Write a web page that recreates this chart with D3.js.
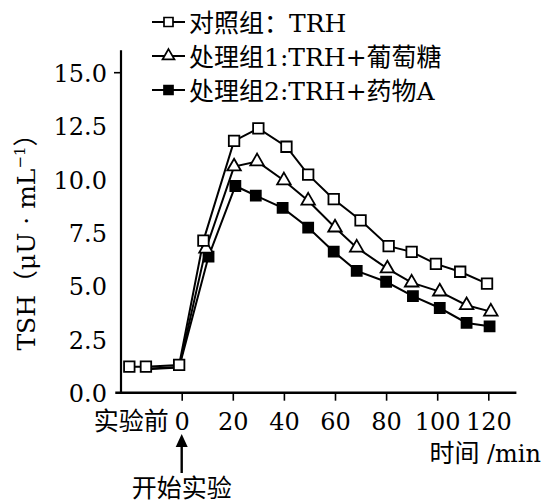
<!DOCTYPE html>
<html>
<head>
<meta charset="utf-8">
<script src="https://cdn.jsdelivr.net/npm/d3@7"></script>
<style>
  html, body { margin: 0; padding: 0; background: #fff; }
  svg { display: block; }
</style>
</head>
<body>
<svg id="chart" width="543" height="504"></svg>
<script>
// TSH response over time (μU·mL⁻¹)
const seriesNames = ["对照组：TRH", "处理组1:TRH+葡萄糖", "处理组2:TRH+药物A"];

// control group (includes the two pre-experiment readings)
const controlTimes  = [-20.5, -14, -1, 8.5, 20.5, 30, 41, 49.5, 59.5, 70, 81, 90, 99.5, 109, 119.5];
const controlValues = [1.22, 1.22, 1.3, 7.13, 11.8, 12.39, 11.53, 10.22, 9.07, 8.08, 6.87, 6.6, 6.04, 5.67, 5.11];

// treatment 1: TRH + glucose
const glucoseTimes  = [-14, -1, 9.5, 20.5, 29.5, 40, 49.5, 60, 68.5, 80.5, 90, 101, 111.5, 121];
const glucoseValues = [1.12, 1.2, 6.75, 10.6, 10.84, 9.95, 9.0, 7.74, 6.8, 5.82, 5.16, 4.74, 4.1, 3.8];

// treatment 2: TRH + drug A
const drugTimes  = [-14, -1, 10.5, 21, 29, 39.5, 49.5, 59.5, 68.5, 80, 90.5, 101, 111.5, 120.5];
const drugValues = [1.1, 1.18, 6.38, 9.69, 9.24, 8.66, 7.74, 6.61, 5.71, 5.2, 4.53, 3.97, 3.27, 3.11];

const xTicks = [0, 20, 40, 60, 80, 100, 120];
const yTicks = [0, 2.5, 5, 7.5, 10, 12.5, 15];

const svg = d3.select("#chart");

const x = d3.scaleLinear().domain([0, 120]).range([181.7, 488.3]);
const y = d3.scaleLinear().domain([0, 15]).range([392.7, 72.7]);

const serif = '"DejaVu Serif", "Noto Sans CJK SC", serif';
const cjk = '"Noto Sans CJK SC", sans-serif';

// ---- axes ----
const axisG = svg.append("g");

// x axis line spans a bit past both ends of the data
axisG.append("line")
  .attr("x1", x(-26)).attr("x2", x(131))
  .attr("y1", y(0)).attr("y2", y(0))
  .attr("stroke", "#000").attr("stroke-width", 2.6);

const xAxis = svg.append("g")
  .attr("transform", `translate(0,${y(0)})`)
  .call(d3.axisBottom(x).tickValues(xTicks).tickSize(8).tickFormat(d3.format("d")));
xAxis.select(".domain").remove();
xAxis.selectAll(".tick line").attr("stroke", "#000").attr("stroke-width", 1.6);
xAxis.selectAll(".tick text")
  .attr("y", 37).attr("dy", 0)
  .attr("fill", "#000")
  .style("font-family", serif).style("font-size", "24px");

// y axis: vertical line with a cap tick at 15.0, labels only elsewhere
axisG.append("line")
  .attr("x1", 121).attr("x2", 121)
  .attr("y1", y(16.05)).attr("y2", y(0) + 1)
  .attr("stroke", "#000").attr("stroke-width", 2.2);

const yAxis = svg.append("g")
  .attr("transform", "translate(121,0)")
  .call(d3.axisLeft(y).tickValues(yTicks).tickSize(0).tickPadding(14).tickFormat(d3.format(".1f")));
yAxis.select(".domain").remove();
yAxis.selectAll(".tick text")
  .attr("fill", "#000")
  .attr("dy", "0.36em")
  .style("font-family", serif).style("font-size", "24px");
yAxis.append("line")
  .attr("x1", -7).attr("x2", 0)
  .attr("y1", y(15)).attr("y2", y(15))
  .attr("stroke", "#000").attr("stroke-width", 1.6);

// y axis title
svg.append("text")
  .attr("transform", `translate(35,${236}) rotate(-90)`)
  .attr("text-anchor", "middle")
  .style("font-family", serif).style("font-size", "25px")
  .call(t => {
    t.append("tspan").text("TSH（μU · mL");
    t.append("tspan").attr("dy", -10).style("font-size", "15px").text("−1");
    t.append("tspan").attr("dy", 10).text("）");
  });

// pre-experiment label and x title
svg.append("text")
  .attr("x", x(0) - 13).attr("y", 430)
  .attr("text-anchor", "end")
  .style("font-family", cjk).style("font-size", "25px")
  .text("实验前");

svg.append("text")
  .attr("x", 541).attr("y", 462)
  .attr("text-anchor", "end")
  .style("font-family", serif).style("font-size", "24px")
  .call(t => {
    t.append("tspan").style("font-family", cjk).style("font-size", "25px").text("时间");
    t.append("tspan").text(" /min");
  });

// "start of experiment" arrow pointing at t = 0
const ax = x(0);
svg.append("line")
  .attr("x1", ax).attr("x2", ax).attr("y1", 473).attr("y2", 444)
  .attr("stroke", "#000").attr("stroke-width", 2.4);
svg.append("path")
  .attr("d", `M${ax},434 L${ax - 6},447 L${ax + 6},447 Z`)
  .attr("fill", "#000");
svg.append("text")
  .attr("x", ax).attr("y", 497)
  .attr("text-anchor", "middle")
  .style("font-family", cjk).style("font-size", "25px")
  .text("开始实验");

// ---- series ----
const line = d3.line().x(d => x(d[0])).y(d => y(d[1]));

function squarePath(s) {
  const h = s / 2;
  return `M${-h},${-h}H${h}V${h}H${-h}Z`;
}
function trianglePath(s) {
  const hgt = s * Math.sqrt(3) / 2;
  return `M0,${-hgt * 2 / 3}L${s / 2},${hgt / 3}L${-s / 2},${hgt / 3}Z`;
}

const series = [
  { times: drugTimes, values: drugValues, shape: squarePath(10), fill: "#000", markFrom: 0 },
  { times: glucoseTimes, values: glucoseValues, shape: trianglePath(13.5), fill: "#fff", markFrom: 0 },
  { times: controlTimes, values: controlValues, shape: squarePath(10.5), fill: "#fff", markFrom: -Infinity }
];

// lines first, markers on top
series.forEach(s => {
  const pts = s.times.map((t, i) => [t, s.values[i]]);
  svg.append("path")
    .datum(pts)
    .attr("d", line)
    .attr("fill", "none")
    .attr("stroke", "#000")
    .attr("stroke-width", 2);
});
series.forEach(s => {
  // treatment groups share the control's baseline markers
  const pts = s.times.map((t, i) => [t, s.values[i]]).filter(p => p[0] > s.markFrom);
  svg.append("g").selectAll("path")
    .data(pts)
    .join("path")
    .attr("transform", d => `translate(${x(d[0])},${y(d[1])})`)
    .attr("d", s.shape)
    .attr("fill", s.fill)
    .attr("stroke", "#000")
    .attr("stroke-width", 1.8);
});

// ---- legend ----
const legendShapes = [
  { shape: squarePath(9), fill: "#fff" },
  { shape: trianglePath(12), fill: "#fff" },
  { shape: squarePath(9), fill: "#000" }
];
const legendRows = [22, 56, 90];
const legend = svg.append("g");
seriesNames.forEach((name, i) => {
  const g = legend.append("g").attr("transform", `translate(0,${legendRows[i]})`);
  g.append("line").attr("x1", 152).attr("x2", 185).attr("y1", 0).attr("y2", 0)
    .attr("stroke", "#000").attr("stroke-width", 2);
  g.append("path").attr("transform", "translate(168.5,0)")
    .attr("d", legendShapes[i].shape)
    .attr("fill", legendShapes[i].fill)
    .attr("stroke", "#000").attr("stroke-width", 1.7);
  g.append("text")
    .attr("x", 189).attr("y", 9.5)
    .style("font-family", serif).style("font-size", "25px")
    .text(name);
});
</script>
</body>
</html>
